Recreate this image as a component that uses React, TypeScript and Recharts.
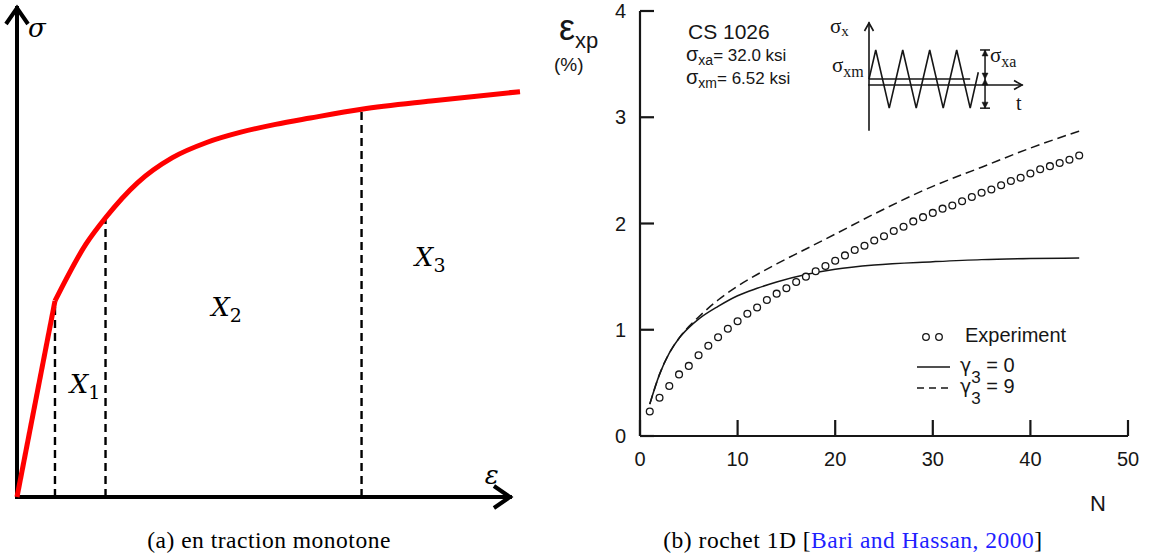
import {
  ComposedChart,
  Line,
  Scatter,
  XAxis,
  YAxis,
  ReferenceLine,
  ReferenceDot,
  Legend,
} from "recharts";

// (a) monotonic tension curve, strain / stress in arbitrary units (0-100)
const elasticStrain = [0, 7.55];
const elasticStress = [0, 40.1];
const hardeningStrain = [7.55, 13.7, 17.6, 24.0, 30.9, 37.7, 44.5, 51.4, 58.3, 68.5, 82.3, 100];
const hardeningStress = [40.1, 51.7, 57.1, 64.3, 69.4, 72.5, 74.6, 76.2, 77.5, 79.3, 81.0, 82.9];
const zoneLimits = [7.55, 17.6, 68.5];
const zoneLimitStress = [40.1, 57.1, 79.3];
const zoneNames = ["1", "2", "3"];

// (b) 1D ratcheting, CS 1026
const cycles = [
  1, 2, 3, 4, 5, 6, 7, 8, 9, 10, 11, 12, 13, 14, 15, 16, 17, 18, 19, 20, 21, 22, 23,
  24, 25, 26, 27, 28, 29, 30, 31, 32, 33, 34, 35, 36, 37, 38, 39, 40, 41, 42, 43, 44, 45,
];
const experiment = [
  0.23, 0.36, 0.47, 0.58, 0.66, 0.76, 0.85, 0.93, 1.01, 1.08, 1.15, 1.21, 1.28, 1.34,
  1.39, 1.45, 1.5, 1.55, 1.6, 1.65, 1.7, 1.75, 1.79, 1.84, 1.88, 1.93, 1.97, 2.02, 2.06,
  2.1, 2.14, 2.17, 2.21, 2.25, 2.29, 2.32, 2.36, 2.4, 2.43, 2.47, 2.51, 2.54, 2.57, 2.6,
  2.64,
];
const simCycles = [1, 2, 3, 4, 5, 6, 8, 10, 12, 14, 17, 20, 24, 30, 35, 40, 45];
const gamma0 = [0.3, 0.58, 0.78, 0.92, 1.02, 1.1, 1.22, 1.32, 1.39, 1.45, 1.52, 1.57, 1.61, 1.64, 1.66, 1.67, 1.675];
const gamma9 = [0.3, 0.58, 0.78, 0.92, 1.03, 1.12, 1.28, 1.41, 1.52, 1.62, 1.76, 1.9, 2.09, 2.35, 2.53, 2.71, 2.87];
const seriesNames = ["Experiment", "γ3 = 0", "γ3 = 9"];
const xTicks = [0, 10, 20, 30, 40, 50];
const yTicks = [0, 1, 2, 3, 4];

// inset: loading history sigma_x(t), ksi
const sigmaMean = 6.52;
const sigmaAmp = 32.0;
const loadTime = [0, 0.25, 0.75, 1.25, 1.75, 2.25, 2.75, 3.25, 3.75, 4.05];
const loadStress = [6.52, 38.52, -25.48, 38.52, -25.48, 38.52, -25.48, 38.52, -25.48, 14];

const elasticData = elasticStrain.map((e, i) => ({ e, s: elasticStress[i] }));
const hardeningData = hardeningStrain.map((e, i) => ({ e, s: hardeningStress[i] }));
const expData = cycles.map((n, i) => ({ n, v: experiment[i] }));
const g0Data = simCycles.map((n, i) => ({ n, v: gamma0[i] }));
const g9Data = simCycles.map((n, i) => ({ n, v: gamma9[i] }));
const loadData = loadTime.map((t, i) => ({ t, s: loadStress[i] }));

// where the zone labels sit, in strain/stress units
const zoneLabelAt = [
  { e: 10.5, s: 21.3 },
  { e: 38.6, s: 37.0 },
  { e: 79.1, s: 47.2 },
];

const SANS = '"Liberation Sans", Arial, sans-serif';
const GREEK = '"DejaVu Sans", sans-serif';
const TIMES = '"Liberation Serif", "Times New Roman", serif';
const MATH = '"DejaVu Serif", serif';
const INK = "#161616";

// line with an open chevron head at its end
const openArrow = (w: number, head: number, spread: number, color = "#000") => (p: any) => {
  const { x1, y1, x2, y2 } = p;
  const dx = x2 - x1;
  const dy = y2 - y1;
  const len = Math.hypot(dx, dy) || 1;
  const ux = dx / len;
  const uy = dy / len;
  const bx = x2 - ux * head;
  const by = y2 - uy * head;
  const nx = -uy * spread;
  const ny = ux * spread;
  return (
    <g>
      <line x1={x1} y1={y1} x2={x2} y2={y2} stroke={color} strokeWidth={w} strokeLinecap="square" />
      <polyline
        points={`${bx + nx},${by + ny} ${x2},${y2} ${bx - nx},${by - ny}`}
        fill="none"
        stroke={color}
        strokeWidth={w}
      />
    </g>
  );
};

// dimension arrow: filled heads at both ends, bar cap on one end
const dimArrow = (cap: "start" | "end") => (p: any) => {
  const { x1, y1, x2, y2 } = p;
  const dir = y2 > y1 ? 1 : -1;
  const h = 6;
  const hw = 3;
  const cy = cap === "start" ? y1 : y2;
  return (
    <g fill={INK} stroke={INK}>
      <line x1={x1} y1={y1} x2={x2} y2={y2} strokeWidth={1.5} />
      <polygon points={`${x1},${y1} ${x1 - hw},${y1 + dir * h} ${x1 + hw},${y1 + dir * h}`} strokeWidth={0.5} />
      <polygon points={`${x2},${y2} ${x2 - hw},${y2 - dir * h} ${x2 + hw},${y2 - dir * h}`} strokeWidth={0.5} />
      <line x1={x1 - 5} y1={cy} x2={x1 + 5} y2={cy} strokeWidth={1.5} />
    </g>
  );
};

const mathLabel = (main: string, sub?: string) => (p: any) => (
  <text x={p.cx} y={p.cy} fontFamily={MATH} fill="#000">
    <tspan fontStyle="italic" fontSize={26}>{main}</tspan>
    {sub ? (
      <tspan fontSize={19} dy={6}>{sub}</tspan>
    ) : null}
  </text>
);

function TensionChart() {
  return (
    <ComposedChart width={540} height={555} margin={{ top: 8, right: 20, bottom: 58, left: 17 }}>
      <XAxis type="number" dataKey="e" domain={[0, 100]} hide />
      <YAxis type="number" domain={[0, 100]} hide />
      <ReferenceLine segment={[{ x: 0, y: 0 }, { x: 0, y: 100 }]} shape={openArrow(4, 16, 11)} />
      <ReferenceLine segment={[{ x: 0, y: 0 }, { x: 98, y: 0 }]} shape={openArrow(4, 16, 11)} />
      {zoneLimits.map((e, i) => (
        <ReferenceLine
          key={e}
          segment={[{ x: e, y: 0 }, { x: e, y: zoneLimitStress[i] }]}
          stroke="#000"
          strokeWidth={2.4}
          strokeDasharray="8 5"
        />
      ))}
      <Line data={elasticData} dataKey="s" type="linear" stroke="#ff0000" strokeWidth={5} dot={false} isAnimationActive={false} />
      <Line data={hardeningData} dataKey="s" type="monotone" stroke="#ff0000" strokeWidth={5} dot={false} isAnimationActive={false} />
      {zoneLabelAt.map((pos, i) => (
        <ReferenceDot key={i} x={pos.e} y={pos.s} r={0} shape={mathLabel("X", zoneNames[i])} />
      ))}
      <ReferenceDot x={2.2} y={94.0} r={0} shape={mathLabel("σ")} />
      <ReferenceDot x={93} y={2.7} r={0} shape={mathLabel("ε")} />
    </ComposedChart>
  );
}

const XTick = (p: any) => {
  const axisY = p.y - 30;
  return (
    <g>
      <line x1={p.x} x2={p.x} y1={axisY} y2={axisY - 16} stroke={INK} strokeWidth={2.2} />
      <text x={p.x} y={p.y} textAnchor="middle" fontFamily={SANS} fontSize={20} fill={INK}>
        {p.payload.value}
      </text>
    </g>
  );
};

const YTick = (p: any) => {
  const axisX = p.x + 14;
  return (
    <g>
      <line x1={axisX} x2={axisX + 14} y1={p.y} y2={p.y} stroke={INK} strokeWidth={2.2} />
      <text x={p.x} y={p.y} dy="0.36em" textAnchor="end" fontFamily={SANS} fontSize={20} fill={INK}>
        {p.payload.value}
      </text>
    </g>
  );
};

const epsLabel = (p: any) => {
  const vb = p.viewBox || { x: 40, y: 11, width: 60 };
  const right = vb.x + vb.width;
  return (
    <g fontFamily={SANS} fill={INK}>
      <text x={right - 81} y={vb.y + 29}>
        <tspan fontSize={36}>ε</tspan>
        <tspan fontSize={22} dy={8}>xp</tspan>
      </text>
      <text x={right - 86} y={vb.y + 60} fontSize={19}>(%)</text>
    </g>
  );
};

const nLabel = (p: any) => {
  const vb = p.viewBox || { x: 100, y: 436, width: 488 };
  return (
    <text x={vb.x + vb.width - 30} y={vb.y + 75} textAnchor="middle" fontFamily={SANS} fontSize={22} fill={INK}>
      N
    </text>
  );
};

const splitName = (name: string) => {
  const m = /^(γ)(\d)(.*)$/.exec(name);
  return m ? { main: m[1], sub: m[2], rest: m[3] } : { main: name, sub: "", rest: "" };
};

const LegendBox = () => {
  const rows = [20, 52, 73];
  return (
    <svg width={200} height={95} style={{ display: "block", overflow: "visible" }}>
      {seriesNames.map((name, i) => {
        const y = rows[i];
        const n = splitName(name);
        return (
          <g key={name}>
            {i === 0 ? (
              <g fill="#fff" stroke={INK} strokeWidth={1.3}>
                <circle cx={16} cy={y - 3} r={3.3} />
                <circle cx={29} cy={y - 3} r={3.3} />
              </g>
            ) : (
              <line x1={7} x2={40} y1={y - 5} y2={y - 5} stroke={INK} strokeWidth={1.5} strokeDasharray={i === 2 ? "7 5" : undefined} />
            )}
            {n.sub ? (
              <text x={50} y={y} fontFamily={SANS} fontSize={20} fill={INK}>
                <tspan fontFamily={GREEK} fontSize={19}>{n.main}</tspan>
                <tspan fontSize={17} dy={11}>{n.sub}</tspan>
                <tspan dy={-11}>{n.rest}</tspan>
              </text>
            ) : (
              <text x={55} y={y + 2} fontFamily={SANS} fontSize={20} fill={INK}>{name}</text>
            )}
          </g>
        );
      })}
    </svg>
  );
};

function RatchetChart() {
  return (
    <ComposedChart width={616} height={555} margin={{ top: 11, right: 28, bottom: 89, left: 40 }}>
      <XAxis
        type="number"
        dataKey="n"
        domain={[0, 50]}
        ticks={xTicks}
        interval={0}
        height={30}
        tickSize={0}
        tickMargin={30}
        tickLine={false}
        axisLine={{ stroke: INK, strokeWidth: 2.2 }}
        tick={XTick}
        label={nLabel}
      />
      <YAxis
        type="number"
        domain={[0, 4]}
        ticks={yTicks}
        interval={0}
        width={60}
        tickSize={0}
        tickMargin={14}
        tickLine={false}
        axisLine={{ stroke: INK, strokeWidth: 2.2 }}
        tick={YTick}
        label={epsLabel}
      />
      <Line data={g0Data} dataKey="v" name={seriesNames[1]} type="monotone" stroke={INK} strokeWidth={1.5} dot={false} legendType="line" isAnimationActive={false} />
      <Line data={g9Data} dataKey="v" name={seriesNames[2]} type="monotone" stroke={INK} strokeWidth={1.5} strokeDasharray="9 5" dot={false} legendType="plainline" isAnimationActive={false} />
      <Scatter
        data={expData}
        dataKey="v"
        name={seriesNames[0]}
        legendType="circle"
        isAnimationActive={false}
        shape={(p: any) => <circle cx={p.cx} cy={p.cy} r={3.4} fill="#fff" stroke={INK} strokeWidth={1.3} />}
      />
      <Legend
        layout="horizontal"
        verticalAlign="middle"
        align="center"
        content={LegendBox}
        wrapperStyle={{ left: 370, top: 320, width: 200, height: 95 }}
      />
      <g fontFamily={SANS} fill={INK}>
        <text x={148} y={39} fontSize={21}>CS 1026</text>
        <text x={146} y={61}>
          <tspan fontSize={20}>σ</tspan>
          <tspan fontSize={14} dy={4}>xa</tspan>
          <tspan fontSize={17} dy={-4}>{`= ${sigmaAmp.toFixed(1)} ksi`}</tspan>
        </text>
        <text x={146} y={84}>
          <tspan fontSize={20}>σ</tspan>
          <tspan fontSize={14} dy={4}>xm</tspan>
          <tspan fontSize={17} dy={-4}>{`= ${sigmaMean.toFixed(2)} ksi`}</tspan>
        </text>
      </g>
    </ComposedChart>
  );
}

function LoadingInset() {
  return (
    <ComposedChart width={200} height={130} margin={{ top: 13, right: 8, bottom: 10, left: 39 }}>
      <XAxis type="number" dataKey="t" domain={[0, 5.67]} hide />
      <YAxis type="number" domain={[-49.5, 68.2]} hide />
      <ReferenceLine segment={[{ x: 0, y: -49.5 }, { x: 0, y: 68.2 }]} shape={openArrow(1.6, 8, 4.5, INK)} />
      <ReferenceLine segment={[{ x: 0, y: 0 }, { x: 5.67, y: 0 }]} shape={openArrow(1.6, 8, 4.5, INK)} />
      <ReferenceLine segment={[{ x: 0, y: sigmaMean }, { x: 3.75, y: sigmaMean }]} stroke={INK} strokeWidth={1.4} />
      <ReferenceLine segment={[{ x: 4.3, y: sigmaMean + sigmaAmp }, { x: 4.3, y: sigmaMean }]} shape={dimArrow("start")} />
      <ReferenceLine segment={[{ x: 4.3, y: sigmaMean }, { x: 4.3, y: sigmaMean - sigmaAmp }]} shape={dimArrow("end")} />
      <Line data={loadData} dataKey="s" type="linear" stroke={INK} strokeWidth={1.6} dot={false} isAnimationActive={false} />
      <g fontFamily={TIMES} fill={INK}>
        <text x={0} y={23}>
          <tspan fontSize={21}>σ</tspan>
          <tspan fontSize={15} dy={3}>x</tspan>
        </text>
        <text x={2} y={62}>
          <tspan fontSize={21}>σ</tspan>
          <tspan fontSize={16} dy={5}>xm</tspan>
        </text>
        <text x={160} y={52}>
          <tspan fontSize={21}>σ</tspan>
          <tspan fontSize={16} dy={5}>xa</tspan>
        </text>
        <text x={186} y={100} fontSize={20}>t</text>
      </g>
    </ComposedChart>
  );
}

const captionStyle = {
  position: "absolute" as const,
  top: 527,
  height: 26,
  lineHeight: "26px",
  textAlign: "center" as const,
  fontFamily: TIMES,
  fontSize: 23.5,
  letterSpacing: 0.5,
  color: "#000",
  whiteSpace: "nowrap" as const,
};

export default function App() {
  return (
    <div style={{ position: "absolute", left: 0, top: 0, width: 1156, height: 555, background: "#fff", overflow: "hidden" }}>
      <div style={{ position: "absolute", left: 0, top: 0 }}>
        <TensionChart />
      </div>
      <div style={{ position: "absolute", left: 540, top: 0 }}>
        <RatchetChart />
      </div>
      <div style={{ position: "absolute", left: 830, top: 10 }}>
        <LoadingInset />
      </div>
      <div style={{ ...captionStyle, left: 0, width: 538 }}>(a) en traction monotone</div>
      <div style={{ ...captionStyle, left: 553, width: 600 }}>
        (b) rochet 1D [<span style={{ color: "#1f1fff" }}>Bari and Hassan, 2000</span>]
      </div>
    </div>
  );
}
